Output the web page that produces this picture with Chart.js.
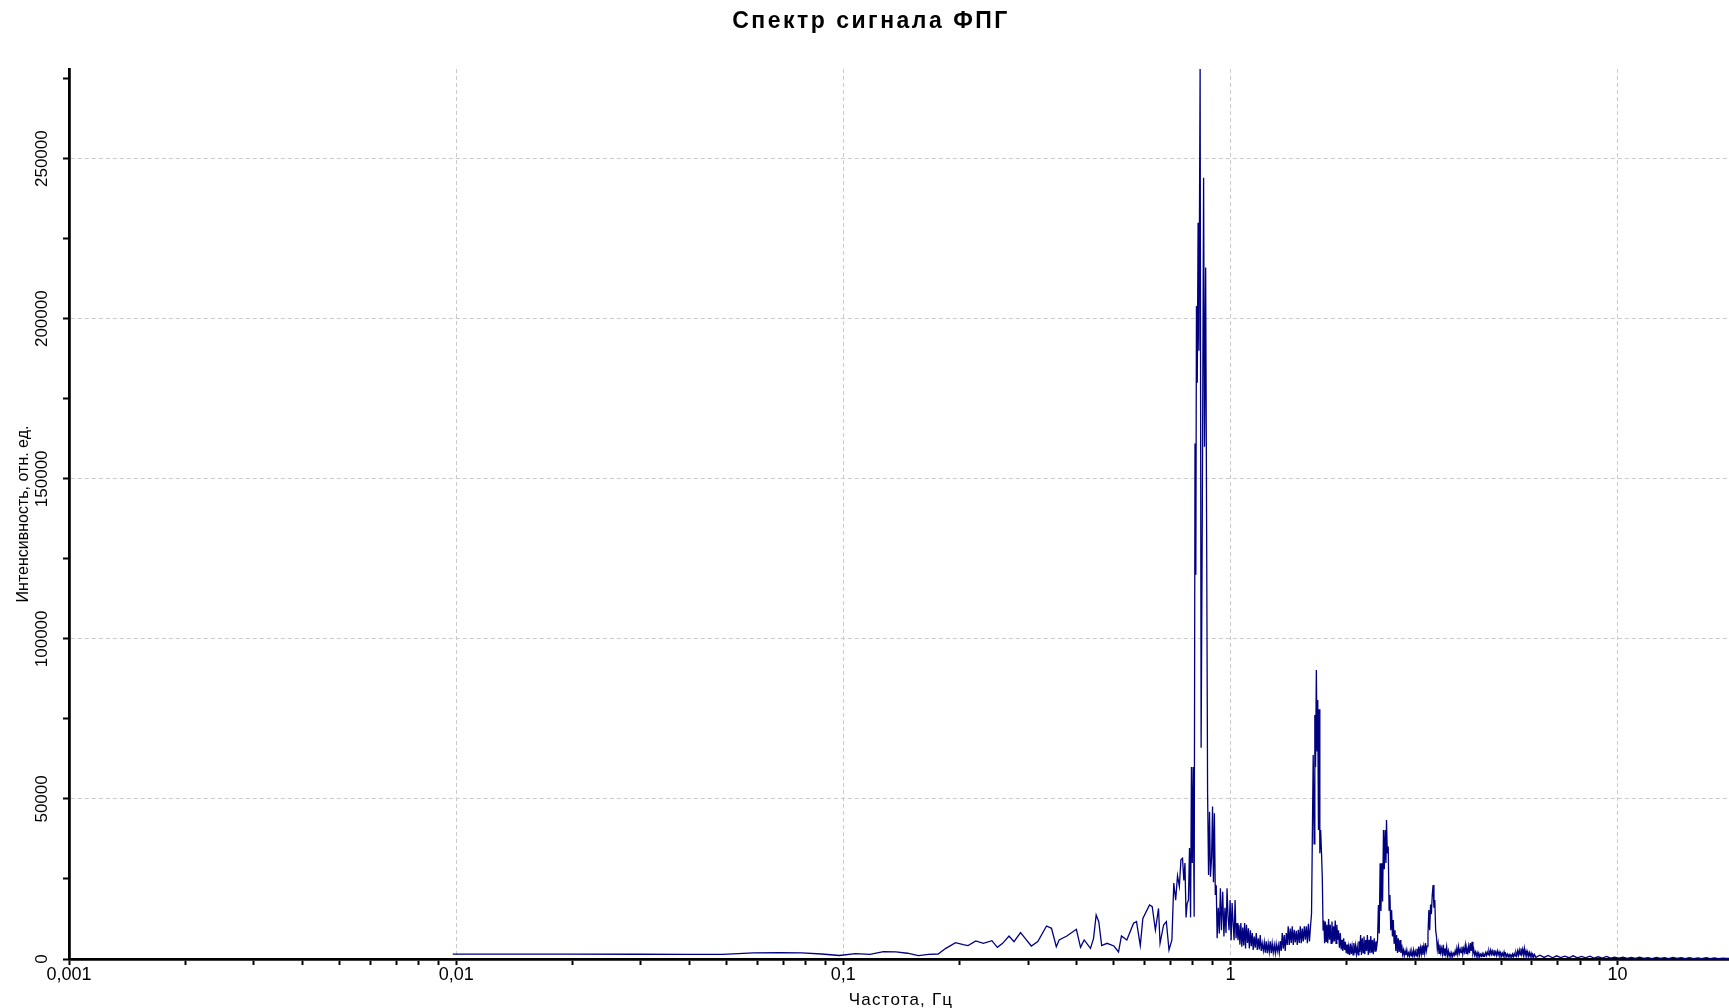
<!DOCTYPE html>
<html lang="ru">
<head>
<meta charset="utf-8">
<title>Спектр сигнала ФПГ</title>
<script src="https://cdn.jsdelivr.net/npm/chart.js@4.4.1/dist/chart.umd.min.js"></script>
<style>
  html, body { margin: 0; padding: 0; background: #fff; }
  #wrap { width: 1729px; height: 1008px; }
</style>
</head>
<body>
<div id="wrap"><canvas id="spectrum"></canvas></div>
<script>
// частоты, Гц
var freqHz = [
  0.0098, 0.0195, 0.0293, 0.0391, 0.0488, 0.0586, 0.0684, 0.0781, 0.0879, 0.0977,
  0.1074, 0.1172, 0.127, 0.1367, 0.1465, 0.1563, 0.166, 0.1758, 0.184, 0.195,
  0.204, 0.21, 0.22, 0.23, 0.242, 0.25, 0.258, 0.268, 0.276, 0.287,
  0.295, 0.306, 0.318, 0.335, 0.345, 0.355, 0.361, 0.378, 0.4, 0.41,
  0.419, 0.435, 0.443, 0.45, 0.457, 0.465, 0.48, 0.5, 0.514, 0.523,
  0.54, 0.562, 0.572, 0.585, 0.594, 0.618, 0.628, 0.64, 0.652, 0.658,
  0.672, 0.683, 0.694, 0.706, 0.714, 0.722, 0.73, 0.738, 0.745, 0.752,
  0.758, 0.763, 0.768, 0.773, 0.779, 0.784, 0.789, 0.793, 0.797, 0.801,
  0.806, 0.81, 0.814, 0.817, 0.821, 0.825, 0.829, 0.835, 0.84, 0.846,
  0.8525, 0.857, 0.863, 0.868, 0.873, 0.878, 0.883, 0.888, 0.894, 0.899,
  0.904, 0.909, 0.914, 0.919, 0.924, 0.93, 0.936, 0.942, 0.948, 0.955,
  0.962, 0.968, 0.974, 0.98, 0.986, 0.992, 0.998, 1.004, 1.01, 1.016,
  1.022, 1.028, 1.034, 1.04, 1.046, 1.052, 1.058, 1.064, 1.07, 1.076,
  1.082, 1.088, 1.094, 1.1, 1.107, 1.113, 1.119, 1.126, 1.132, 1.139,
  1.145, 1.152, 1.159, 1.166, 1.173, 1.18, 1.187, 1.194, 1.201, 1.208,
  1.216, 1.223, 1.23, 1.237, 1.245, 1.252, 1.26, 1.267, 1.275, 1.282,
  1.29, 1.298, 1.306, 1.313, 1.321, 1.329, 1.337, 1.345, 1.353, 1.361,
  1.369, 1.377, 1.385, 1.394, 1.402, 1.41, 1.419, 1.427, 1.436, 1.444,
  1.453, 1.461, 1.47, 1.479, 1.488, 1.497, 1.506, 1.515, 1.524, 1.533,
  1.542, 1.552, 1.561, 1.571, 1.58, 1.59, 1.6, 1.61, 1.62, 1.627,
  1.636, 1.645, 1.652, 1.659, 1.667, 1.674, 1.681, 1.688, 1.695, 1.702,
  1.71, 1.719, 1.727, 1.735, 1.743, 1.751, 1.759, 1.767, 1.775, 1.784,
  1.793, 1.802, 1.811, 1.82, 1.829, 1.838, 1.847, 1.856, 1.865, 1.874,
  1.883, 1.893, 1.902, 1.912, 1.922, 1.932, 1.942, 1.951, 1.961, 1.971,
  1.981, 1.991, 2.001, 2.011, 2.021, 2.031, 2.042, 2.052, 2.062, 2.073,
  2.083, 2.094, 2.104, 2.115, 2.126, 2.137, 2.147, 2.158, 2.169, 2.18,
  2.191, 2.202, 2.213, 2.224, 2.236, 2.247, 2.258, 2.27, 2.281, 2.293,
  2.304, 2.316, 2.327, 2.339, 2.351, 2.363, 2.375, 2.387, 2.399, 2.411,
  2.423, 2.436, 2.448, 2.46, 2.472, 2.485, 2.497, 2.51, 2.522, 2.53,
  2.542, 2.556, 2.569, 2.582, 2.595, 2.608, 2.621, 2.634, 2.647, 2.661,
  2.674, 2.687, 2.701, 2.714, 2.728, 2.742, 2.756, 2.77, 2.784, 2.798,
  2.812, 2.826, 2.84, 2.855, 2.869, 2.884, 2.898, 2.913, 2.928, 2.943,
  2.958, 2.972, 2.988, 3.003, 3.018, 3.033, 3.049, 3.064, 3.079, 3.095,
  3.111, 3.126, 3.142, 3.158, 3.174, 3.19, 3.206, 3.222, 3.238, 3.255,
  3.271, 3.288, 3.304, 3.321, 3.338, 3.355, 3.372, 3.389, 3.406, 3.423,
  3.44, 3.458, 3.475, 3.493, 3.51, 3.528, 3.546, 3.564, 3.582, 3.6,
  3.618, 3.637, 3.655, 3.673, 3.692, 3.711, 3.73, 3.749, 3.767, 3.787,
  3.806, 3.825, 3.844, 3.864, 3.883, 3.903, 3.923, 3.942, 3.962, 3.982,
  4.002, 4.022, 4.043, 4.063, 4.083, 4.104, 4.125, 4.145, 4.166, 4.187,
  4.208, 4.23, 4.251, 4.272, 4.294, 4.316, 4.337, 4.359, 4.381, 4.403,
  4.425, 4.448, 4.47, 4.492, 4.515, 4.538, 4.561, 4.584, 4.607, 4.63,
  4.653, 4.676, 4.7, 4.723, 4.747, 4.771, 4.795, 4.819, 4.843, 4.867,
  4.892, 4.916, 4.941, 4.966, 4.991, 5.016, 5.041, 5.066, 5.092, 5.117,
  5.143, 5.169, 5.195, 5.221, 5.247, 5.273, 5.3, 5.327, 5.353, 5.38,
  5.407, 5.435, 5.462, 5.489, 5.517, 5.545, 5.573, 5.601, 5.629, 5.657,
  5.686, 5.714, 5.743, 5.772, 5.801, 5.83, 5.859, 5.889, 5.918, 5.948,
  5.978, 6.008, 6.038, 6.069, 6.1, 6.15, 6.3, 6.46, 6.62, 6.79,
  6.96, 7.13, 7.31, 7.49, 7.68, 7.87, 8.07, 8.27, 8.48, 8.69,
  8.91, 9.13, 9.36, 9.59, 9.83, 10.08, 10.33, 10.59, 10.85, 11.12,
  11.4, 11.69, 11.98, 12.28, 12.59, 12.9, 13.22, 13.55, 13.89, 14.24,
  14.6, 14.96, 15.33, 15.72, 16.11, 16.51, 16.93, 17.35, 17.78, 18.23,
  18.68, 19.15, 19.4
];

// интенсивность, отн. ед.
var intensity = [
  1500, 1500, 1480, 1470, 1460, 1900, 1950, 1900, 1560, 1100,
  1700, 1460, 2300, 2250, 1800, 1040, 1450, 1560, 3330, 5100,
  4480, 4170, 5630, 4900, 5730, 3650, 4900, 7190, 5420, 8230,
  6460, 4060, 5420, 10300, 9580, 3850, 5940, 7190, 9270, 3650,
  5940, 3330, 6460, 13750, 11670, 4170, 4900, 4060, 2200, 7190,
  5940, 11150, 11670, 4170, 12700, 16880, 16350, 9060, 15800, 4900,
  10630, 11670, 2810, 5940, 23750, 18400, 26000, 22700, 31000, 31500,
  24500, 30000, 13000, 17300, 18400, 34700, 13000, 60000, 30000, 60000,
  13200, 161000, 120000, 204000, 180000, 230000, 190000, 278000, 66000, 140000,
  244000, 160000, 216000, 133600, 51800, 26250, 46000, 25700, 31800, 47600,
  24000, 45500, 20000, 23000, 6500, 16000, 8000, 22100, 9000, 21000,
  7000, 16000, 8100, 22100, 13200, 9000, 18400, 5900, 17500, 11200,
  5900, 18400, 6500, 11200, 5900, 10500, 4500, 11200, 3850, 9800,
  4200, 11200, 3300, 10700, 5000, 9600, 3300, 9000, 4000, 8100,
  2800, 7000, 3500, 8100, 2800, 6500, 3000, 7500, 2500, 4900,
  2600, 5200, 2000, 5500, 1800, 4800, 2200, 5500, 1800, 4900,
  2000, 4400, 1800, 4700, 2400, 4400, 1900, 5600, 2500, 8100,
  3200, 7500, 2500, 8100, 4400, 10200, 4400, 9500, 5000, 10200,
  4400, 9100, 5200, 8800, 4400, 9100, 5000, 10200, 4900, 9500,
  5500, 10200, 6000, 10200, 4900, 11000, 5500, 10200, 14300, 36100,
  63750, 36000, 76250, 60000, 90300, 65000, 80900, 40300, 78000, 33000,
  40300, 33000, 25200, 9100, 12000, 4900, 11700, 5500, 10700, 4900,
  12500, 6000, 10700, 4900, 11700, 5200, 10200, 5500, 12000, 4900,
  10700, 6000, 9000, 3500, 8100, 3000, 6000, 2500, 6500, 2800,
  5400, 1800, 4500, 1500, 3850, 1300, 4800, 1600, 4000, 1300,
  5000, 1800, 4200, 1500, 3850, 1300, 5500, 2200, 7500, 1250,
  6500, 2000, 7000, 1500, 5900, 2500, 7500, 1250, 6000, 1800,
  7200, 2000, 5900, 1500, 6500, 2500, 5500, 3850, 6000, 16900,
  8000, 29900, 15000, 29900, 18000, 40300, 28000, 40300, 30000, 43400,
  33000, 35100, 15300, 20000, 9000, 15300, 7000, 12200, 5000, 9000,
  2500, 7500, 1900, 6500, 2200, 5900, 1900, 4500, 1500, 2800,
  1000, 2500, 1200, 2800, 1000, 1900, 800, 2500, 1000, 2200,
  900, 2800, 1100, 2400, 1000, 3200, 1200, 3850, 1300, 3500,
  1500, 4200, 1300, 3850, 1800, 5000, 2500, 4000, 8000, 15300,
  9000, 17000, 14000, 20000, 23100, 16000, 18400, 9000, 7000, 3000,
  4900, 1800, 4500, 2000, 3300, 1500, 4400, 1200, 3300, 1500,
  3800, 1000, 2500, 900, 1900, 700, 1900, 800, 1800, 1200,
  2500, 1100, 3300, 1500, 3850, 1800, 3000, 2000, 3850, 1500,
  3300, 2200, 4400, 1800, 3300, 2000, 4000, 1800, 5000, 2500,
  5400, 1800, 3000, 1200, 2200, 900, 2000, 800, 1800, 700,
  1500, 900, 1700, 800, 1500, 1000, 2000, 1100, 2200, 1300,
  2500, 1400, 2800, 1500, 2500, 1200, 2800, 1400, 2200, 1100,
  2500, 1300, 2200, 1000, 2000, 900, 1800, 900, 2200, 1000,
  1600, 800, 1500, 700, 1400, 700, 1300, 600, 1500, 700,
  1700, 900, 2000, 1000, 2500, 1200, 2800, 1300, 3300, 1500,
  3000, 1300, 3300, 1200, 2500, 1000, 2200, 900, 2000, 800,
  1800, 700, 1500, 600, 1400, 500, 1200, 500, 1100, 400,
  1000, 450, 900, 400, 1000, 350, 800, 350, 900, 300,
  700, 300, 800, 250, 600, 250, 550, 200, 500, 200,
  600, 200, 450, 150, 500, 200, 400, 150, 500, 200,
  400, 150, 450, 150, 350, 150, 400, 120, 350, 120,
  300, 150, 200
];

// деления осей
var decades = [0.001, 0.01, 0.1, 1, 10];
var decadeLabels = ['0,001', '0,01', '0,1', '1', '10'];
var subSteps = [1, 2, 3, 4, 5, 6, 7, 8, 9];
var yTicks = [0, 25000, 50000, 75000, 100000, 125000, 150000, 175000, 200000, 225000, 250000, 275000];
var yLabelStep = 50000;

var titleText = 'Спектр сигнала ФПГ';
var xTitleText = 'Частота, Гц';
var yTitleText = 'Интенсивность, отн. ед.';

var xMin = 0.001;
var xMax = 19.4;
var yMax = 278000;

if (freqHz.length != intensity.length) {
  console.log('freqHz/intensity length mismatch', freqHz.length, intensity.length);
}

var points = [];
for (var i = 0; i < freqHz.length; i++) {
  points.push({x: freqHz[i], y: intensity[i]});
}

var xTicks = [];
for (var d = 0; d < decades.length; d++) {
  for (var s = 0; s < subSteps.length; s++) {
    var v = decades[d] * subSteps[s];
    if (v <= xMax) xTicks.push(v);
  }
}

function decadeIndex(value) {
  for (var k = 0; k < decades.length; k++) {
    if (Math.abs(value / decades[k] - 1) < 1e-6) return k;
  }
  return -1;
}

var gridColor = '#cacaca';
var fontFamily = "'Liberation Sans', Arial, sans-serif";

// заголовок, подпись оси X и повернутые подписи оси Y
var textPlugin = {
  id: 'chartTexts',
  afterDraw: function(chart) {
    var ctx = chart.ctx;
    var x = chart.scales.x;
    var y = chart.scales.y;
    ctx.save();
    ctx.fillStyle = '#000';
    ctx.textAlign = 'center';
    ctx.textBaseline = 'middle';

    ctx.font = 'bold 23px ' + fontFamily;
    ctx.letterSpacing = '2.5px';
    ctx.fillText(titleText, 871, 22);

    ctx.font = '17px ' + fontFamily;
    ctx.letterSpacing = '1.2px';
    ctx.fillText(xTitleText, (x.left + x.right) / 2 + 2, 1000);

    ctx.letterSpacing = '0px';
    ctx.font = '17px ' + fontFamily;
    y.ticks.forEach(function(t) {
      if (t.value % yLabelStep !== 0) return;
      var py = y.getPixelForValue(t.value);
      ctx.save();
      ctx.translate(42, py);
      ctx.rotate(-Math.PI / 2);
      ctx.fillText(String(t.value), 0, 0);
      ctx.restore();
    });
    ctx.restore();
  }
};

var chart = new Chart(document.getElementById('spectrum'), {
  type: 'line',
  data: {
    datasets: [{
      data: points,
      borderColor: '#000080',
      borderWidth: 1.3,
      pointRadius: 0,
      tension: 0,
      fill: false
    }]
  },
  options: {
    responsive: true,
    maintainAspectRatio: false,
    animation: false,
    parsing: false,
    normalized: true,
    events: [],
    layout: { padding: { top: 69, left: 0, right: 0, bottom: 0 } },
    plugins: {
      legend: { display: false },
      tooltip: { enabled: false },
      title: { display: false }
    },
    scales: {
      x: {
        type: 'logarithmic',
        min: xMin,
        max: xMax,
        afterBuildTicks: function(scale) {
          scale.ticks = xTicks.map(function(v) { return {value: v}; });
        },
        afterFit: function(scale) { scale.height = 49; },
        ticks: {
          autoSkip: false,
          minRotation: 0,
          maxRotation: 0,
          padding: -1,
          color: '#000',
          font: { family: fontFamily, size: 18 },
          callback: function(value) {
            var k = decadeIndex(value);
            return k >= 0 ? decadeLabels[k] : '';
          }
        },
        grid: {
          color: function(c) {
            var k = c.tick ? decadeIndex(c.tick.value) : -1;
            return k > 0 ? gridColor : 'rgba(0,0,0,0)';
          },
          lineWidth: 1,
          tickLength: 6,
          tickColor: '#000',
          tickWidth: 2
        },
        border: { display: true, color: '#000', width: 2.8, dash: [4, 3] },
        title: { display: false }
      },
      y: {
        type: 'linear',
        min: 0,
        max: yMax,
        afterBuildTicks: function(scale) {
          scale.ticks = yTicks.map(function(v) { return {value: v}; });
        },
        afterFit: function(scale) { scale.width = 69; },
        ticks: { display: false },
        grid: {
          color: function(c) {
            var v = c.tick ? c.tick.value : 0;
            return (v > 0 && v % yLabelStep === 0) ? gridColor : 'rgba(0,0,0,0)';
          },
          lineWidth: 1,
          tickLength: 6,
          tickColor: '#000',
          tickWidth: 2
        },
        border: { display: true, color: '#000', width: 2.8, dash: [4, 3] },
        title: {
          display: true,
          text: yTitleText,
          color: '#000',
          font: { family: fontFamily, size: 16 },
          padding: { top: 14, bottom: 0 }
        }
      }
    }
  },
  plugins: [textPlugin]
});
</script>
</body>
</html>
